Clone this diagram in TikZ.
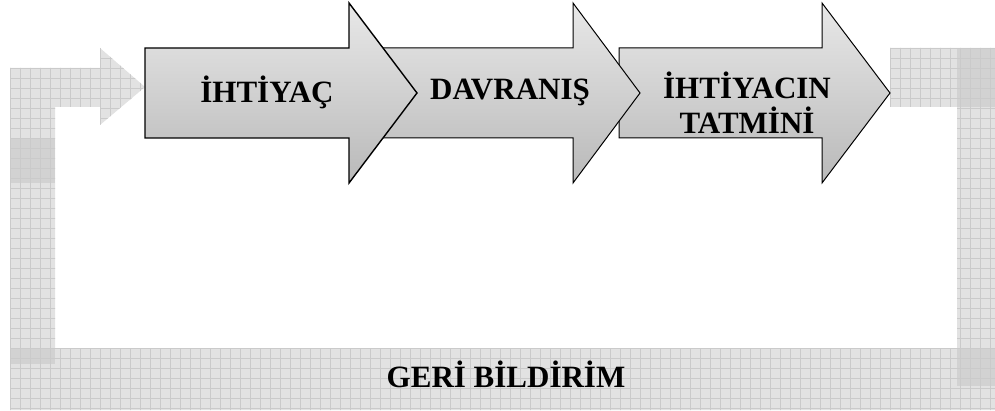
\documentclass[tikz,border=0pt]{standalone}
\usepackage{fontspec}
\setmainfont{Liberation Serif}
\usetikzlibrary{calc}
\definecolor{bandgray}{RGB}{226,226,226}
\definecolor{banddark}{RGB}{210,210,210}
\definecolor{gridgray}{RGB}{202,202,202}
\definecolor{arrowtop}{RGB}{232,232,232}
\definecolor{arrowbot}{RGB}{185,185,185}
% block arrow: body left, head base, tip
\newcommand{\blockarrow}[3]{(#1,48) -- (#2,48) -- (#2,3) -- (#3,93) -- (#2,183) -- (#2,138) -- (#1,138) -- cycle}
\newcommand{\feedbackband}{(10,68) -- (100,68) -- (100,48) -- (145,87) -- (100,125) -- (100,107) -- (55,107) -- (55,348) -- (957,348) -- (957,107) -- (890,107) -- (890,48) -- (995,48) -- (995,410) -- (10,410) -- cycle}

\begin{document}
\begin{tikzpicture}[x=1pt,y=-1pt,
  stagearrow/.style={draw=black,line width=1pt,line join=miter,top color=arrowtop,bottom color=arrowbot},
  stagetext/.style={font=\fontsize{31}{35}\selectfont\bfseries,align=center,inner sep=0pt}]
  \useasboundingbox (0,0) rectangle (995,411);
  % feedback loop
  \fill[bandgray] \feedbackband;
  \fill[banddark] (10,138) rectangle (55,183);
  \fill[banddark] (10,348) rectangle (55,364);
  \fill[banddark] (957,48) rectangle (995,107);
  \fill[banddark] (957,348) rectangle (995,386);
  \begin{scope}
    \clip \feedbackband;
    \foreach \gx in {10,20,...,1000} \draw[gridgray,line width=0.8pt] (\gx,40) -- (\gx,411);
    \foreach \gy in {48,58,...,418} \draw[gridgray,line width=0.8pt] (0,\gy) -- (995,\gy);
  \end{scope}
  % stages
  \draw[stagearrow] \blockarrow{619}{822}{890};
  \draw[stagearrow] \blockarrow{370}{573}{640};
  \draw[stagearrow,line width=1.4pt] \blockarrow{145}{349}{417};
  \node[stagetext] (ihtiyac) at (267,92) {İHTİYAÇ};
  \node[stagetext] (davranis) at (510,92) {DAVRANIŞ};
  \node[stagetext] (tatmin) at (747,103) {İHTİYACIN\\TATMİNİ};
  \node[stagetext] (geribildirim) at (506,374) {GERİ BİLDİRİM};
\end{tikzpicture}
\end{document}
